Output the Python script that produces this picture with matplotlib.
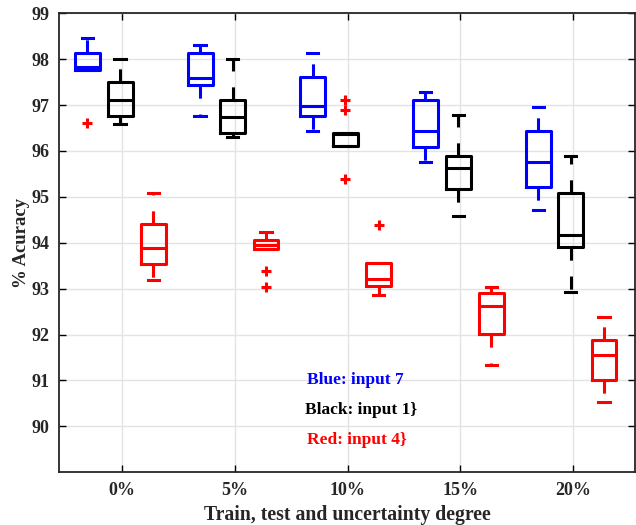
import matplotlib
matplotlib.use("Agg")
import matplotlib.pyplot as plt

categories = ["0%", "5%", "10%", "15%", "20%"]
yticks = [90, 91, 92, 93, 94, 95, 96, 97, 98, 99]

# Per-series box statistics: whisker low, q1, median, q3, whisker high, outliers
blue_whislo = [97.77, 96.77, 96.43, 95.75, 94.71]
blue_q1 = [97.77, 97.43, 96.77, 96.08, 95.21]
blue_med = [97.84, 97.59, 96.98, 96.43, 95.77]
blue_q3 = [98.14, 98.14, 97.61, 97.12, 96.43]
blue_whishi = [98.47, 98.31, 98.13, 97.28, 96.96]
blue_fliers = [[96.61], [], [], [], []]

black_whislo = [96.59, 96.30, 96.10, 94.59, 92.93]
black_q1 = [96.77, 96.39, 96.10, 95.18, 93.91]
black_med = [97.12, 96.75, 96.36, 95.63, 94.16]
black_q3 = [97.51, 97.12, 96.40, 95.90, 95.09]
black_whishi = [98.00, 98.00, 96.40, 96.79, 95.90]
black_fliers = [[], [], [97.12, 96.90, 95.40], [], []]

red_whislo = [93.20, 93.87, 92.87, 91.33, 90.54]
red_q1 = [93.53, 93.87, 93.05, 92.02, 91.00]
red_med = [93.89, 93.96, 93.21, 92.62, 91.55]
red_q3 = [94.40, 94.07, 93.57, 92.91, 91.88]
red_whishi = [95.09, 94.24, 93.57, 93.04, 92.39]
red_fliers = [[], [93.38, 93.04], [94.38], [], []]

series = [
    ("blue", -0.31, blue_whislo, blue_q1, blue_med, blue_q3, blue_whishi, blue_fliers),
    ("black", -0.02, black_whislo, black_q1, black_med, black_q3, black_whishi, black_fliers),
    ("red", 0.275, red_whislo, red_q1, red_med, red_q3, red_whishi, red_fliers),
]

plt.rcParams['font.family'] = ['Liberation Serif', 'DejaVu Serif']
plt.rcParams['font.weight'] = 'bold'

fig = plt.figure(figsize=(6.36, 5.25), dpi=100)
ax = fig.add_axes([0.0932, 0.1004, 0.9053, 0.8743])

lw = 2.2
for color, off, wl, q1, md, q3, wh, fl in series:
    stats = []
    for i in range(len(categories)):
        stats.append(dict(whislo=wl[i], q1=q1[i], med=md[i], q3=q3[i],
                          whishi=wh[i], fliers=fl[i]))
    pos = [i + 1 + off for i in range(len(categories))]
    ax.bxp(stats, positions=pos, widths=0.22, capwidths=0.1,
           boxprops=dict(color=color, linewidth=lw),
           medianprops=dict(color=color, linewidth=lw),
           whiskerprops=dict(color=color, linewidth=lw, linestyle=(0, (4.3, 5.2))),
           capprops=dict(color=color, linewidth=lw),
           flierprops=dict(marker='+', markeredgecolor='red', markersize=7,
                           markeredgewidth=2.2, linestyle='none'),
           manage_ticks=False, zorder=3)

ax.set_xlim(0.44, 5.55)
ax.set_ylim(89, 99)
ax.set_xticks(range(1, len(categories) + 1))
ax.set_xticklabels(categories)
ax.set_yticks(yticks)
ax.set_yticklabels([str(v) for v in yticks])
ax.tick_params(direction='in', top=True, right=True, labelsize=13, length=5,
               width=1.0, pad=7)
for lab in ax.get_xticklabels() + ax.get_yticklabels():
    lab.set_fontweight('bold')
    lab.set_color('#262626')
ax.grid(True, color='#e3e3e3', linewidth=1.0, zorder=0)
ax.set_axisbelow(True)
for s in ax.spines.values():
    s.set_linewidth(1.3)
    s.set_color('#262626')

ax.set_xlabel("Train, test and uncertainty degree", fontsize=14.2, fontweight='bold',
              color='#262626', labelpad=4)
ax.set_ylabel("% Acuracy", fontsize=13.5, fontweight='bold', color='#262626', labelpad=1)

ax.text(2.64, 91.0, "Blue: input 7", color='blue', fontsize=12.5, fontweight='bold',
        va='center', ha='left')
ax.text(2.62, 90.35, "Black: input 1}", color='black', fontsize=12.5, fontweight='bold',
        va='center', ha='left')
ax.text(2.64, 89.7, "Red: input 4}", color='red', fontsize=12.5, fontweight='bold',
        va='center', ha='left')

fig.savefig("out.png", dpi=100)
